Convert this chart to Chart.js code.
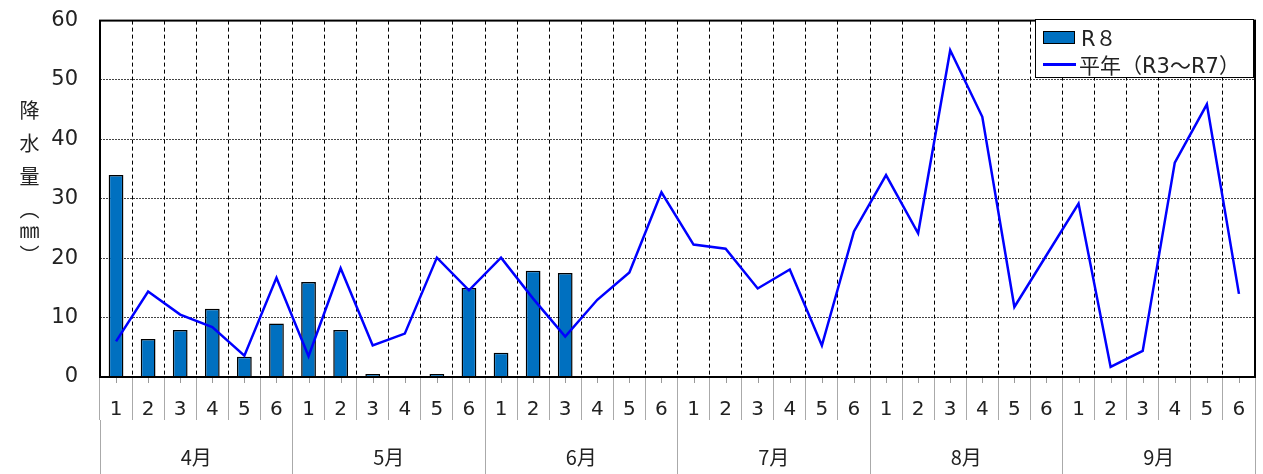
<!DOCTYPE html>
<html>
<head>
<meta charset="utf-8">
<script src="https://cdn.jsdelivr.net/npm/chart.js@4"></script>
<style>
  body { margin: 0; background: #fff; }
  #wrap { position: relative; width: 1263px; height: 474px; }
  #ytitle {
    position: absolute; left: 19px; top: 100px; height: 180px;
    writing-mode: vertical-rl; font-family: "Noto Sans CJK JP"; font-size: 20px; color: #222; line-height: 1;
  }
  #ytitle .w { letter-spacing: 13px; }
  #ytitle .p { letter-spacing: 3px; }
  #legend {
    position: absolute; left: 1035px; top: 19px; width: 217px; height: 57px;
    background: #fff; border: 1px solid #000; font-family: "DejaVu Sans", "Noto Sans CJK JP"; font-size: 21px; color: #222;
  }
  .item { position: absolute; left: 7px; display: flex; align-items: center; white-space: nowrap; }
  .sw-bar { width: 30px; height: 11px; background: #0070C0; border: 1.5px solid #000; margin-right: 6px; }
  .sw-line { width: 33px; height: 3px; background: #0000FF; margin-right: 3px; }
</style>
</head>
<body>
<div id="wrap">
  <canvas id="chart" width="1263" height="474"></canvas>
  <div id="ytitle"><span class="w">降水量</span><span class="p">（㎜）</span></div>
  <div id="legend"></div>
</div>
<script>
// 半旬ごとの降水量
var months = ["4月", "5月", "6月", "7月", "8月", "9月"];
var periods = ["1", "2", "3", "4", "5", "6"];
var r8 = [
  34, 6.4, 7.9, 11.5, 3.4, 9.0,
  16.0, 7.9, 0.5, 0, 0.5, 15.0,
  4.1, 17.9, 17.5, null, null, null,
  null, null, null, null, null, null,
  null, null, null, null, null, null,
  null, null, null, null, null, null,
];
var heinen = [
  6.0, 14.4, 10.5, 8.4, 3.6, 16.7,
  3.5, 18.3, 5.3, 7.3, 20.1, 14.6,
  20.1, 13.2, 6.8, 13.0, 17.6, 31.1,
  22.3, 21.6, 14.9, 18.1, 5.3, 24.5,
  34.0, 24.2, 55.0, 43.8, 11.8, 20.5,
  29.2, 1.7, 4.4, 36.1, 45.9, 14.0,
];
var yTicks = [0, 10, 20, 30, 40, 50, 60];

var labels = [];
for (let m = 0; m < months.length; m++) {
  for (let p = 0; p < periods.length; p++) {
    labels.push(periods[p]);
  }
}

var legendNames = ["R８", "平年（R3～R7）"];
document.getElementById("legend").innerHTML =
  '<div class="item" style="top:2px"><div class="sw-bar"></div>' + legendNames[0] + "</div>" +
  '<div class="item" style="top:29px"><div class="sw-line"></div>' + legendNames[1] + "</div>";

// 枠線と目盛りの小さい線
var frame = {
  id: "frame",
  afterDraw: function (chart) {
    var a = chart.chartArea;
    var ctx = chart.ctx;
    var xs = chart.scales.x;
    ctx.save();
    ctx.strokeStyle = "#999";
    ctx.lineWidth = 1;
    ctx.beginPath();
    for (let i = 0; i < xs.ticks.length; i++) {
      var px = Math.round(xs.getPixelForTick(i)) + 0.5;
      ctx.moveTo(px, a.bottom);
      ctx.lineTo(px, a.bottom + 6);
    }
    ctx.stroke();
    ctx.strokeStyle = "#000";
    ctx.lineWidth = 2;
    ctx.strokeRect(a.left, a.top, a.right - a.left, a.bottom - a.top);
    ctx.restore();
  },
};

var ctx = document.getElementById("chart").getContext("2d");
new Chart(ctx, {
  type: "bar",
  data: {
    labels: labels,
    datasets: [
      {
        type: "line",
        label: legendNames[1],
        data: heinen,
        borderColor: "#0000FF",
        borderWidth: 2.5,
        pointRadius: 0,
        tension: 0,
        fill: false,
        order: 0,
      },
      {
        label: legendNames[0],
        data: r8,
        backgroundColor: "#0070C0",
        borderColor: "#000",
        borderWidth: 1.5,
        barPercentage: 0.46,
        categoryPercentage: 1,
        order: 1,
      },
    ],
  },
  options: {
    responsive: false,
    animation: false,
    layout: { padding: { top: 0, right: 8, left: 0, bottom: 0 } },
    plugins: { legend: { display: false }, tooltip: { enabled: false } },
    scales: {
      y: {
        min: 0,
        max: 60,
        afterBuildTicks: function (s) {
          s.ticks = yTicks.map(function (v) { return { value: v }; });
        },
        afterFit: function (s) { s.width = 100; },
        border: { display: false, dash: [2, 1] },
        grid: {
          color: "#444",
          lineWidth: 1,
          drawTicks: true,
          tickLength: 14,
          tickColor: "rgba(0,0,0,0)",
        },
        ticks: {
          padding: 8,
          color: "#222",
          font: { family: "DejaVu Sans", size: 21 },
        },
      },
      x: {
        offset: true,
        afterFit: function (s) { s.height = 43; },
        border: { display: false, dash: [4, 3] },
        grid: {
          offset: true,
          color: "#000",
          lineWidth: 1,
          tickLength: 43,
          tickColor: "#aaa",
          tickBorderDash: [],
          tickWidth: 1,
        },
        ticks: {
          padding: -22,
          color: "#222",
          maxRotation: 0,
          autoSkip: false,
          font: { family: "DejaVu Sans", size: 20 },
        },
      },
      x2: {
        type: "category",
        labels: months,
        position: "bottom",
        offset: true,
        afterFit: function (s) { s.height = 54; },
        border: { display: false },
        grid: {
          offset: true,
          drawOnChartArea: false,
          tickLength: 54,
          tickColor: "#aaa",
          tickWidth: 1,
        },
        ticks: {
          padding: -29,
          color: "#222",
          maxRotation: 0,
          font: { family: "Noto Sans CJK JP", size: 20 },
        },
      },
    },
  },
  plugins: [frame],
});
</script>
</body>
</html>
